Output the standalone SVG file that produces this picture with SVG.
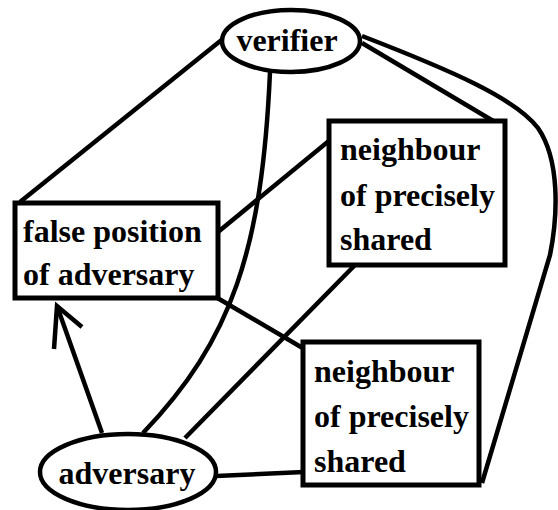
<svg xmlns="http://www.w3.org/2000/svg" width="558" height="510" viewBox="0 0 558 510">
<style>
.bg{fill:#fff}
.box{fill:#fff;stroke:#000;stroke-width:5}
.ell{fill:#fff;stroke:#000;stroke-width:4.5}
.ln{fill:none;stroke:#000;stroke-width:4.5;stroke-linecap:butt}
</style>
<rect class="bg" x="0" y="0" width="558" height="510"/>
<g id="connectors">
<line class="ln" x1="224" y1="38" x2="20" y2="202"/>
<path class="ln" d="M270,72 C 262,250 232,340 143,433"/>
<line class="ln" x1="362" y1="43" x2="500" y2="125"/>
<path class="ln" d="M362,36 C 450,70 515,98 538,128 C 560,160 558,215 550,255 L 482,483"/>
<line class="ln" x1="218" y1="232" x2="330" y2="140"/>
<line class="ln" x1="214" y1="296" x2="306" y2="350"/>
<line class="ln" x1="102" y1="433" x2="57" y2="306"/>
<polyline class="ln" points="54,349 57,306 82,327"/>
<line class="ln" x1="185" y1="438" x2="356" y2="264"/>
<line class="ln" x1="216" y1="476" x2="304" y2="472"/>
</g>
<g font-family="Liberation Serif, serif" font-weight="bold" font-size="32" fill="#000">
<g id="verifier">
<ellipse class="ell" cx="291" cy="41" rx="69" ry="31"/>
<text x="287" y="51" text-anchor="middle">verifier</text>
</g>
<g id="false-position">
<rect class="box" x="15" y="203" width="203" height="95"/>
<text x="23" y="242">false position</text>
<text x="23" y="285">of adversary</text>
</g>
<g id="neighbour1">
<rect class="box" x="329" y="121" width="176" height="144"/>
<text x="340" y="160">neighbour</text>
<text x="340" y="206">of precisely</text>
<text x="340" y="250">shared</text>
</g>
<g id="neighbour2">
<rect class="box" x="303" y="342" width="176" height="143"/>
<text x="314" y="382">neighbour</text>
<text x="314" y="427">of precisely</text>
<text x="314" y="472">shared</text>
</g>
<g id="adversary">
<ellipse class="ell" cx="128" cy="472" rx="88" ry="38"/>
<text x="127" y="484" text-anchor="middle">adversary</text>
</g>
</g>
</svg>
